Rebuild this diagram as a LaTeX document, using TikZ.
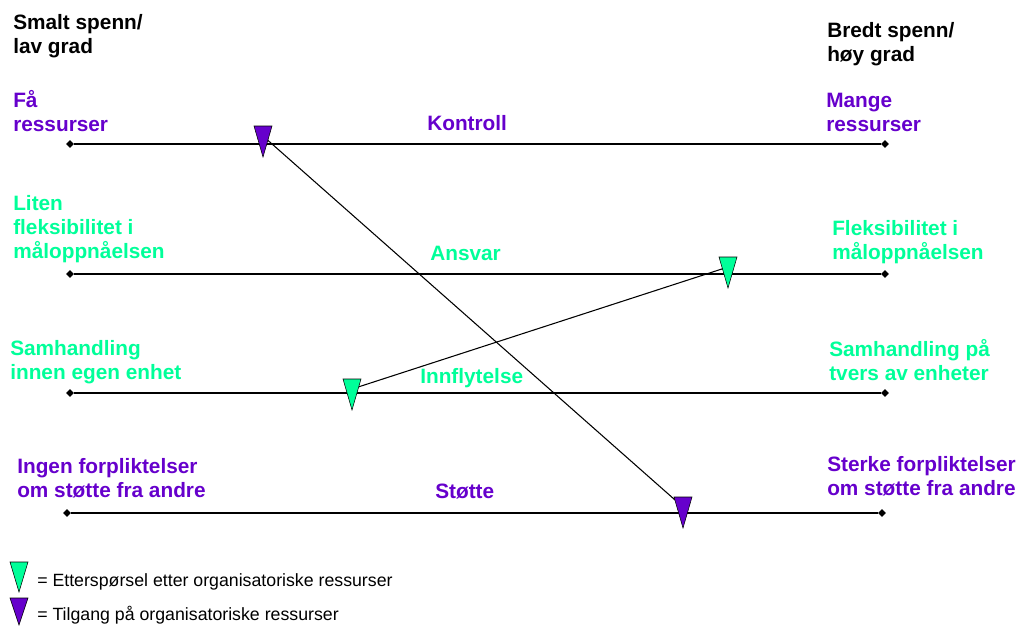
\documentclass[tikz,border=0pt]{standalone}
\usepackage{fontspec}
\setmainfont{Liberation Sans}
\usepackage{xcolor}
\usepackage{tikz}
\usetikzlibrary{shapes.geometric,positioning}
\definecolor{lilla}{HTML}{6600CC}
\definecolor{gronn}{HTML}{00FF99}

\begin{document}
\begin{tikzpicture}[x=0.75pt,y=-0.75pt,
                every node/.append style = {anchor = base west, inner sep = 0pt, align = left},
                lbl/.style = {font = \bfseries\fontsize{15.6}{18}\selectfont},
                leg/.style = {font = \fontsize{13.3}{16}\selectfont},
                endpt/.style = {diamond, fill = black, minimum size = 6pt, anchor = center},
                axis/.style = {line width = 1.8pt},
                link/.style = {line width = 0.8pt},
                tri/.style = {draw = black, line width = 0.4pt, fill = #1}]
            \useasboundingbox (0,0) rectangle (1023,625);
            % ends of the scale (base = last line)
            \node[lbl] (smalt) at (13,53) {Smalt spenn/\\lav grad};
            \node[lbl] (bredt) at (827,61) {Bredt spenn/\\høy grad};
            % Kontroll
            \node[lbl, text = lilla] (kontroll-v) at (13,131) {Få\\ressurser};
            \node[lbl, text = lilla] (kontroll-h) at (826,131) {Mange\\ressurser};
            \node[lbl, text = lilla] (kontroll) at (427,130) {Kontroll};
            \node[endpt] (k1) at (70,144) {};
            \node[endpt] (k2) at (885,144) {};
            \draw[axis] (k1) -- (k2);
            % Ansvar
            \node[lbl, text = gronn] (ansvar-v) at (13,258) {Liten\\fleksibilitet i\\måloppnåelsen};
            \node[lbl, text = gronn] (ansvar-h) at (832,259) {Fleksibilitet i\\måloppnåelsen};
            \node[lbl, text = gronn] (ansvar) at (430,260) {Ansvar};
            \node[endpt] (a1) at (70,274) {};
            \node[endpt] (a2) at (885,274) {};
            \draw[axis] (a1) -- (a2);
            % Innflytelse
            \node[lbl, text = gronn] (innfl-v) at (10,379) {Samhandling\\innen egen enhet};
            \node[lbl, text = gronn] (innfl-h) at (829,380) {Samhandling på\\tvers av enheter};
            \node[lbl, text = gronn] (innfl) at (420,383) {Innflytelse};
            \node[endpt] (i1) at (70,393) {};
            \node[endpt] (i2) at (885,393) {};
            \draw[axis] (i1) -- (i2);
            % Støtte
            \node[lbl, text = lilla] (stotte-v) at (17,497) {Ingen forpliktelser\\om støtte fra andre};
            \node[lbl, text = lilla] (stotte-h) at (827,495) {Sterke forpliktelser\\om støtte fra andre};
            \node[lbl, text = lilla] (stotte) at (435,498) {Støtte};
            \node[endpt] (s1) at (67,513) {};
            \node[endpt] (s2) at (882,513) {};
            \draw[axis] (s1) -- (s2);
            % markers
            \coordinate (m1) at (263,136);
            \coordinate (m2) at (728,267);
            \coordinate (m3) at (352,389);
            \coordinate (m4) at (683,507);
            \draw[link] (m1) -- (m4);
            \draw[link] (m2) -- (m3);
            \foreach \m/\c in {m1/lilla, m4/lilla, m2/gronn, m3/gronn}
                \filldraw[tri = \c] (\m) +(-9,-10) -- +(9,-10) -- +(0,21) -- cycle;
            % legend
            \coordinate (lg) at (19,572);
            \coordinate (lp) at (19,608);
            \filldraw[tri = gronn] (lg) +(-9,-10) -- +(9,-10) -- +(0,20) -- cycle;
            \filldraw[tri = lilla] (lp) +(-9,-10) -- +(9,-10) -- +(0,17) -- cycle;
            \node[leg] (lg-t) at (37,586) {= Etterspørsel etter organisatoriske ressurser};
            \node[leg] (lp-t) at (37,620) {= Tilgang på organisatoriske ressurser};
\end{tikzpicture}
\end{document}
